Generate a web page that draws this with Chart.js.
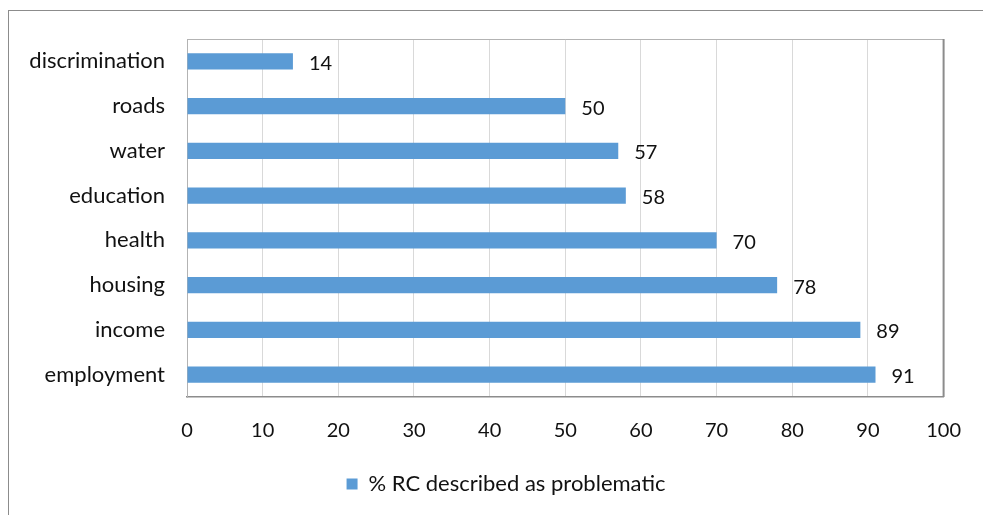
<!DOCTYPE html>
<html>
<head>
<meta charset="utf-8">
<script src="https://cdn.jsdelivr.net/npm/chart.js@4/dist/chart.umd.min.js"></script>
<style>
  html, body { margin: 0; padding: 0; background: #fff; overflow: hidden; }
  #wrap { position: relative; width: 983px; height: 515px; }
  #frame { position: absolute; left: 8px; top: 10px; width: 1100px; height: 700px; border: 1.5px solid #8c8c8c; box-sizing: border-box; }
  canvas { position: absolute; left: 0; top: 0; }
</style>
</head>
<body>
<div id="wrap">
  <div id="frame"></div>
  <canvas id="chart" width="983" height="515"></canvas>
</div>
<script>
document.addEventListener('DOMContentLoaded', function () {

    // --- dados ---
    const categories = ['discrimination', 'roads', 'water', 'education', 'health', 'housing', 'income', 'employment'];
    const values = [14, 50, 57, 58, 70, 78, 89, 91];
    const seriesLabel = '% RC described as problematic';
    const xMin = 0, xMax = 100, xStep = 10;

    const fontFamily = 'Lato, "Open Sans", sans-serif';
    const textColor = '#111';

    // rotulos ao fim de cada barra
    const valueLabels = {
        id: 'valueLabels',
        afterDatasetsDraw(chart) {
            const ctx = chart.ctx;
            const meta = chart.getDatasetMeta(0);
            ctx.save();
            ctx.font = '20px ' + fontFamily;
            ctx.fillStyle = textColor;
            ctx.textAlign = 'left';
            ctx.textBaseline = 'middle';
            meta.data.forEach((bar, i) => {
                ctx.fillText(String(values[i]), bar.x + 16, bar.y + 2);
            });
            ctx.restore();
        }
    };

    // borda da area do grafico
    const plotBorder = {
        id: 'plotBorder',
        beforeDatasetsDraw(chart) {
            const a = chart.chartArea;
            const ctx = chart.ctx;
            ctx.save();
            ctx.lineWidth = 1;
            ctx.strokeStyle = '#b3b3b3';
            ctx.beginPath();
            ctx.moveTo(a.left, a.top + 0.5);
            ctx.lineTo(a.right, a.top + 0.5);
            ctx.stroke();
            ctx.lineWidth = 2;
            ctx.strokeStyle = '#8c8c8c';
            ctx.beginPath();
            ctx.moveTo(a.right, a.top);
            ctx.lineTo(a.right, a.bottom);
            ctx.stroke();
            ctx.restore();
        }
    };

    // legenda um pouco deslocada para a direita, como no original
    const legendShift = {
        id: 'legendShift',
        afterLayout(chart) {
            const lg = chart.legend;
            if (!lg) return;
            lg.left += 34;
            lg.right += 34;
            lg.top += 2;
            lg.bottom += 2;
        }
    };

    const ctx = document.getElementById('chart').getContext('2d');
    new Chart(ctx, {
        type: 'bar',
        data: {
            labels: categories,
            datasets: [{
                label: seriesLabel,
                data: values,
                backgroundColor: '#5b9bd5',
                borderWidth: 0,
                categoryPercentage: 1,
                barPercentage: 0.36
            }]
        },
        options: {
            indexAxis: 'y',
            responsive: false,
            animation: false,
            layout: { padding: { left: 0, right: 39, top: 39, bottom: 12 } },
            scales: {
                x: {
                    min: xMin,
                    max: xMax,
                    ticks: { stepSize: xStep, color: textColor, font: { family: fontFamily, size: 20 }, padding: 22 },
                    grid: { color: '#d9d9d9', drawTicks: false },
                    border: { color: '#8c8c8c', width: 1.5 },
                    afterFit(scale) { scale.height = 64; }
                },
                y: {
                    ticks: { color: textColor, font: { family: fontFamily, size: 22 }, padding: 22 },
                    grid: { display: false, drawTicks: false },
                    border: { color: '#b3b3b3', width: 1 },
                    afterFit(scale) { scale.width = 187; }
                }
            },
            plugins: {
                legend: {
                    position: 'bottom',
                    labels: { boxWidth: 11, boxHeight: 11, color: textColor, font: { family: fontFamily, size: 22 }, padding: 10 }
                },
                tooltip: { enabled: false }
            }
        },
        plugins: [valueLabels, plotBorder, legendShift]
    });
});
</script>
</body>
</html>
